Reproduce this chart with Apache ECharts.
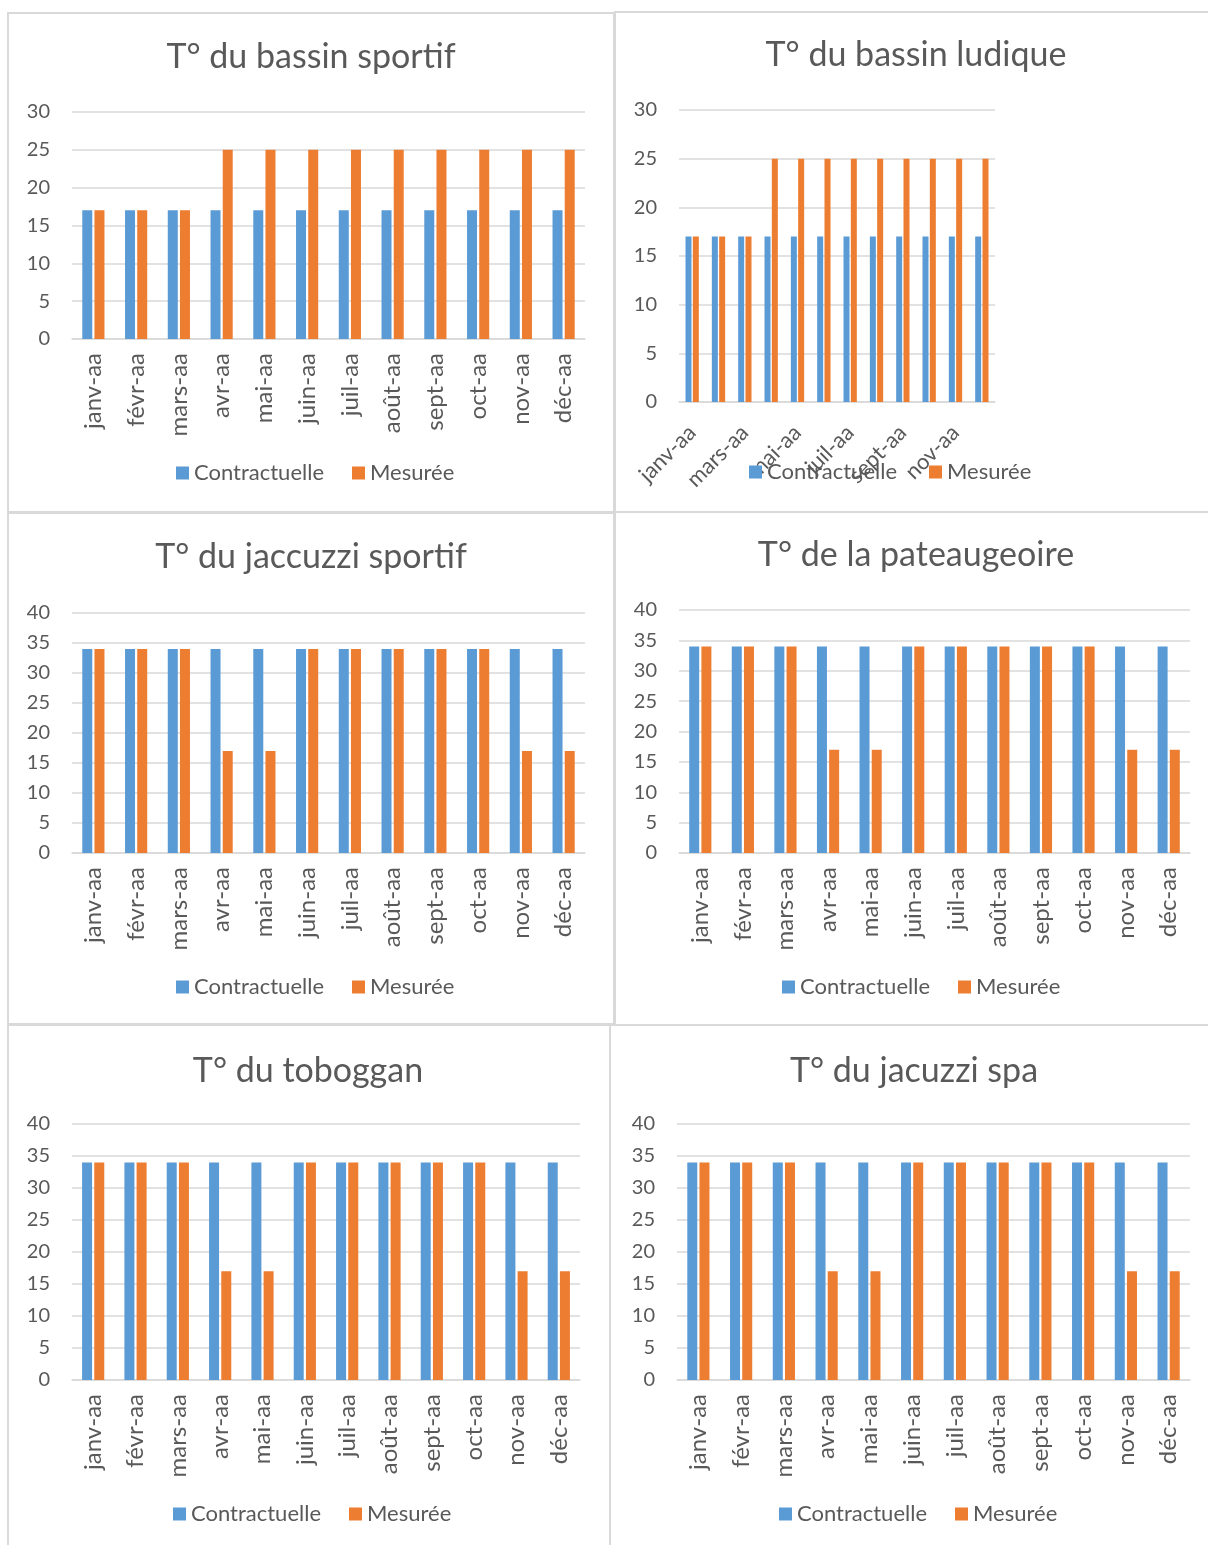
<!DOCTYPE html>
<html>
<head>
<meta charset="utf-8">
<script src="https://cdn.jsdelivr.net/npm/echarts@6/dist/echarts.min.js"></script>
<style>
html,body{margin:0;padding:0;background:#fff;}
#c{width:1208px;height:1545px;}
</style>
</head>
<body>
<div id="c"></div>
<script>
// ---- data ----
const months = ['janv-aa','févr-aa','mars-aa','avr-aa','mai-aa','juin-aa','juil-aa','août-aa','sept-aa','oct-aa','nov-aa','déc-aa'];
const seriesNames = ['Contractuelle','Mesurée'];
const titles = ['T° du bassin sportif','T° du bassin ludique','T° du jaccuzzi sportif','T° de la pateaugeoire','T° du toboggan','T° du jacuzzi spa'];

const sportifContract = [17,17,17,17,17,17,17,17,17,17,17,17];
const sportifMeasured = [17,17,17,25,25,25,25,25,25,25,25,25];
const ludiqueContract = [17,17,17,17,17,17,17,17,17,17,17,17];
const ludiqueMeasured = [17,17,17,25,25,25,25,25,25,25,25,25];
const jaccuzziContract = [34,34,34,34,34,34,34,34,34,34,34,34];
const jaccuzziMeasured = [34,34,34,17,17,34,34,34,34,34,17,17];
const pataugeoireContract = [34,34,34,34,34,34,34,34,34,34,34,34];
const pataugeoireMeasured = [34,34,34,17,17,34,34,34,34,34,17,17];
const tobogganContract = [34,34,34,34,34,34,34,34,34,34,34,34];
const tobogganMeasured = [34,34,34,17,17,34,34,34,34,34,17,17];
const spaContract = [34,34,34,34,34,34,34,34,34,34,34,34];
const spaMeasured = [34,34,34,17,17,34,34,34,34,34,17,17];

const yMax = [30,30,40,40,40,40];
const yStep = 5;

// ---- layout ----
const FONT = 'Lato, "Open Sans", sans-serif';
const TXT = '#595959';
const GRID = '#D9D9D9';
const BLUE = '#5B9BD5';
const ORANGE = '#ED7D31';

const panels = [
  {grid:{left:72,top:112,width:513,height:227}, title:[311,57], legend:[176,462], lgap:28, box:[8,13,606,499], barW:10, rot:90, interval:0},
  {grid:{left:679,top:110,width:316,height:292}, title:[916,55], legend:[749,461], lgap:32, box:[615,12,600,500], barW:6, rot:45, interval:1},
  {grid:{left:72,top:613,width:513,height:240}, title:[311,557], legend:[176,976], lgap:28, box:[8,513,606,511], barW:10, rot:90, interval:0},
  {grid:{left:679,top:610,width:511,height:243}, title:[916,555], legend:[782,976], lgap:28, box:[615,512,600,513], barW:10, rot:90, interval:0},
  {grid:{left:72,top:1124,width:508,height:256}, title:[308,1071], legend:[173,1503], lgap:28, box:[8,1025,602,530], barW:10, rot:90, interval:0},
  {grid:{left:677,top:1124,width:513,height:256}, title:[914,1071], legend:[779,1503], lgap:28, box:[610,1025,600,530], barW:10, rot:90, interval:0}
];
const dataPairs = [
  [sportifContract, sportifMeasured],
  [ludiqueContract, ludiqueMeasured],
  [jaccuzziContract, jaccuzziMeasured],
  [pataugeoireContract, pataugeoireMeasured],
  [tobogganContract, tobogganMeasured],
  [spaContract, spaMeasured]
];

const grid=[], xAxis=[], yAxis=[], series=[], legend=[], graphic=[];
panels.forEach((p,i)=>{
  grid.push(Object.assign({containLabel:false}, p.grid));
  xAxis.push({
    type:'category', gridIndex:i, data:months,
    axisLine:{show:true, lineStyle:{color:GRID, width:1.5}},
    axisTick:{show:false},
    axisLabel:{rotate:p.rot, interval:p.interval, margin: p.rot===90?14:27, color:TXT, fontFamily:FONT, fontSize: p.rot===90?24:22}
  });
  yAxis.push({
    type:'value', gridIndex:i, min:0, max:yMax[i], interval:yStep,
    axisLine:{show:false}, axisTick:{show:false},
    splitLine:{lineStyle:{color:GRID, width:1.5}},
    axisLabel:{margin:22, color:TXT, fontFamily:FONT, fontSize:20}
  });
  dataPairs[i].forEach((arr,k)=>{
    series.push({
      type:'bar', name:seriesNames[k], xAxisIndex:i, yAxisIndex:i, data:arr,
      barWidth:p.barW, barGap:'22%',
      itemStyle:{color:k===0?BLUE:ORANGE},
      emphasis:{disabled:true}, animation:false
    });
  });
  legend.push({
    data:seriesNames, left:p.legend[0], top:p.legend[1], icon:'rect', padding:0,
    itemWidth:13, itemHeight:13, itemGap:p.lgap,
    textStyle:{color:TXT, fontFamily:FONT, fontSize:22}, selectedMode:false
  });
  graphic.push({type:'rect', silent:true, z:-1, shape:{x:p.box[0],y:p.box[1],width:p.box[2],height:p.box[3]},
    style:{fill:null, stroke:GRID, lineWidth:2}});
  graphic.push({type:'text', silent:true, x:p.title[0], y:p.title[1],
    style:{text:titles[i], fill:TXT, font:'34px '+FONT, textAlign:'center', textVerticalAlign:'middle'}});
});

const chart = echarts.init(document.getElementById('c'), null, {renderer:'canvas'});
chart.setOption({animation:false, grid, xAxis, yAxis, series, legend, graphic});
</script>
</body>
</html>
